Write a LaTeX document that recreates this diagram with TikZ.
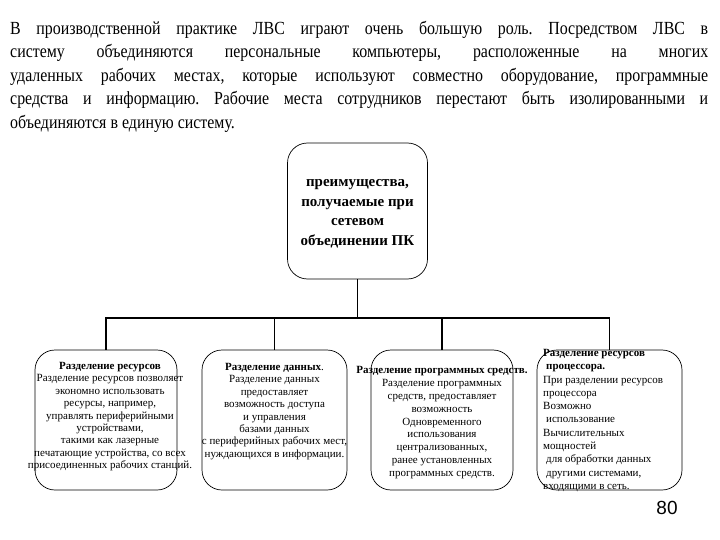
\documentclass[tikz,border=0pt]{standalone}
\usepackage{fontspec}
\setmainfont{Liberation Serif}
\newfontfamily\introfont[FakeStretch=0.86]{Liberation Serif}
\newfontfamily\pagenumfont{Liberation Sans}
\usetikzlibrary{positioning}
\frenchspacing

\begin{document}
\begin{tikzpicture}[x=1pt,y=-1pt,
    bloc/.style={draw,rounded corners=20pt,line width=0.7pt,inner sep=0pt},
    lien/.style={line width=1.6pt},
    petit/.style={font=\fontsize{11}{#1}\selectfont,inner sep=0pt},
    petit/.default=12.4]
  \useasboundingbox (0,0) rectangle (720,540);
  \node[anchor=north west,text width=698pt,align=justify,inner sep=0pt,
        font=\introfont\fontsize{18.5}{23.5}\selectfont] (intro) at (10,21)
    {В производственной практике ЛВС играют очень большую роль. Посредством ЛВС в\linebreak
     систему объединяются персональные компьютеры, расположенные на многих\linebreak
     удаленных рабочих местах, которые используют совместно оборудование, программные\linebreak
     средства и информацию. Рабочие места сотрудников перестают быть изолированными и\linebreak
     объединяются в единую систему.};
  \node[bloc,minimum width=140pt,minimum height=136pt] (avant) at (357.5,211) {};
  \node[align=center,inner sep=0pt,font=\bfseries\fontsize{15}{19.5}\selectfont] (avant-txt)
    at (357.5,214) {преимущества,\\ получаемые при\\ сетевом\\ объединении ПК};
  \foreach \i/\x/\w in {1/106/142, 2/274.5/145, 3/442/142, 4/609.5/145}
  { \node[bloc,minimum width=\w pt,minimum height=140pt] (r\i) at (\x,420) {}; }
  \coordinate (barre) at (357.5,318);
  \draw[lien] (avant.south) -- (barre);
  \draw[lien] (r1.north) -- (r1.north |- barre) -- (r4.north |- barre) -- (r4.north);
  \draw[lien] (r2.north) -- (r2.north |- barre);
  \draw[lien] (r3.north) -- (r3.north |- barre);
  \node[petit,align=center,anchor=north] (t1) at (110,362)
    {\textbf{Разделение ресурсов}\\ Разделение ресурсов позволяет\\ экономно использовать\\
     ресурсы, например,\\ управлять периферийными\\ устройствами,\\ такими как лазерные\\
     печатающие устройства, со всех\\ присоединенных рабочих станций.};
  \node[petit,align=center,anchor=north] (t2) at (274.5,363)
    {\textbf{Разделение данных}.\\ Разделение данных\\ предоставляет\\ возможность доступа\\
     и управления\\ базами данных\\ с периферийных рабочих мест,\\ нуждающихся в информации.};
  \node[petit=12.9,align=center,anchor=north] (t3) at (442,366)
    {\textbf{Разделение программных средств.}\\ Разделение программных\\ средств, предоставляет\\
     возможность\\ Одновременного\\ использования\\ централизованных,\\ ранее установленных\\
     программных средств.};
  \node[petit=13.3,align=left,anchor=north west] (t4) at (543,349)
    {\textbf{Разделение ресурсов}\\ \hspace*{3pt}\textbf{процессора.}\\ При разделении ресурсов\\
     процессора\\ Возможно\\ \hspace*{3pt}использование\\ Вычислительных\\ мощностей\\
     \hspace*{3pt}для обработки данных\\ \hspace*{3pt}другими системами,\\ входящими в сеть.};
  \node[font=\pagenumfont\fontsize{19}{19}\selectfont] (num) at (667,508) {80};
\end{tikzpicture}
\end{document}
